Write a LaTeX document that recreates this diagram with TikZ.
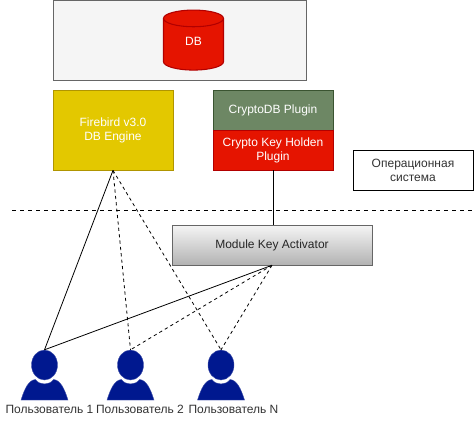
\documentclass[tikz,border=0pt]{standalone}
\usepackage{fontspec}
\setmainfont{Liberation Sans}
\usepackage{xcolor}
\usetikzlibrary{shapes.geometric,positioning}

\definecolor{yellowfill}{HTML}{E3C800}
\definecolor{yellowline}{HTML}{B09500}
\definecolor{greenfill}{HTML}{6D8764}
\definecolor{greenline}{HTML}{3A5431}
\definecolor{redfill}{HTML}{E51400}
\definecolor{redline}{HTML}{B20000}
\definecolor{navyfill}{HTML}{00188F}
\definecolor{navyline}{HTML}{3F4FA8}

\tikzset{
    box/.style={draw, rectangle, inner sep=0pt, font=\fontsize{9}{10.5}\selectfont, align=center},
    colorbox/.style={box, text=white, line width=0.6pt},
    link/.style={black, line width=0.6pt},
    dashlink/.style={link, dash pattern=on 2.4pt off 2.4pt},
    username/.style={inner sep=0pt, font=\fontsize{9}{10.5}\selectfont, text=black!80},
}

% one user: head node, shoulders below it, name at its own x
\newcommand{\drawuser}[4]{
    \node[draw=navyline, fill=navyfill, line width=0.3pt, ellipse, inner sep=0pt, minimum width=19.5pt, minimum height=22.5pt] (#1) at (#2,365) {};
    \fill[navyfill, draw=navyline, line width=0.3pt] (#2-23.5,400) .. controls (#2-20,389) and (#2-16,380) .. (#2-9,379.5)
        .. controls (#2-5,385.5) and (#2+5,385.5) .. (#2+9,379.5)
        .. controls (#2+16,380) and (#2+20,389) .. (#2+23.5,400) -- cycle;
    \node[username] (#1name) at (#3,409) {#4};
}

\begin{document}
\begin{tikzpicture}[x=0.75pt, y=-0.75pt]
    \useasboundingbox (0,0) rectangle (475,421);

    % Storage
    \node[box, draw=black!60, fill=black!4, minimum width=189.75pt, minimum height=60pt] (storage) at (179.5,40) {};
    \node[cylinder, shape border rotate=90, aspect=1.0, draw=redline, fill=redfill, line width=0.8pt, text=white, inner sep=0pt,
        minimum width=45pt, minimum height=45pt, font=\fontsize{9}{10.5}\selectfont] (db) at (193.5,44.5) {\raisebox{2.5pt}[\height][\depth]{DB}};

    % Engine and plugins
    \node[colorbox, draw=yellowline, fill=yellowfill, minimum width=90pt, minimum height=60pt] (engine) at (113,130) {Firebird v3.0\\DB Engine};
    \node[colorbox, draw=greenline, fill=greenfill, minimum width=90pt, minimum height=30pt] (cryptodb) at (273,110) {CryptoDB Plugin};
    \node[colorbox, draw=redline, fill=redfill, minimum width=90pt, minimum height=30pt] (keyholder) at (273,150) {Crypto Key Holden\\Plugin};
    \node[box, minimum width=90pt, minimum height=30pt, text=black!80] (os) at (413,170) {Операционная\\система};

    % Boundary
    \coordinate (leftend) at (12,210.5);
    \coordinate (rightend) at (473,210.5);
    \draw[dashlink, dash pattern=on 3pt off 3pt] (leftend) -- (rightend);

    % Activator
    \node[box, draw=black!60, top color=black!4, bottom color=black!30, minimum width=150pt, minimum height=30pt, text=black!85] (activator) at (272,245) {Module Key Activator};

    % Users
    \drawuser{userone}{44.5}{49.5}{Пользователь 1}
    \drawuser{usertwo}{130.5}{140}{Пользователь 2}
    \drawuser{usern}{221}{233.5}{Пользователь N}

    % Links
    \draw[link] (keyholder.south) -- (keyholder.south |- activator.north);
    \draw[link] (engine.south) -- (userone.north);
    \draw[dashlink] (engine.south) -- (usertwo.north);
    \draw[dashlink] (engine.south) -- (usern.north);
    \draw[link] (activator.south) -- (userone.north);
    \draw[dashlink] (activator.south) -- (usertwo.north);
    \draw[dashlink] (activator.south) -- (usern.north);
\end{tikzpicture}
\end{document}
